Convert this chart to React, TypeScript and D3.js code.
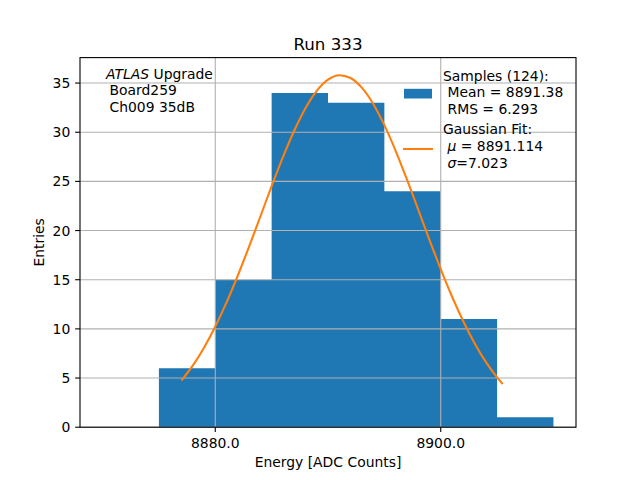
import React from 'react';
import * as d3 from 'd3';

// histogram: bin edges and counts
const binEdges = [8870, 8875, 8880, 8885, 8890, 8895, 8900, 8905, 8910];
const binCounts = [0, 6, 15, 34, 33, 24, 11, 1];

// gaussian fit curve
const fitX = [8877, 8878, 8879, 8880, 8881, 8882, 8883, 8884, 8885, 8886, 8887, 8888, 8889, 8890, 8891,
  8892, 8893, 8894, 8895, 8896, 8897, 8898, 8899, 8900, 8901, 8902, 8903, 8904, 8905, 8905.5];
const fitY = [4.75, 6.26, 8.09, 10.24, 12.69, 15.43, 18.37, 21.43, 24.51, 27.46, 30.15, 32.45, 34.21, 35.35, 35.8,
  35.52, 34.53, 32.9, 30.72, 28.11, 25.2, 22.14, 19.06, 16.08, 13.29, 10.77, 8.55, 6.65, 5.07, 4.39];

const xTicks = [8880, 8900];
const yTicks = [0, 5, 10, 15, 20, 25, 30, 35];

const W = 640;
const H = 480;
const margin = { left: 80, right: 64, top: 57.6, bottom: 52.8 };
const FONT = 'DejaVu Sans, sans-serif';
const BLUE = '#1f77b4';
const ORANGE = '#ff7f0e';
const GRID = '#b0b0b0';

const App: React.FC = () => {
  const x0 = margin.left;
  const x1 = W - margin.right;
  const y0 = H - margin.bottom;
  const y1 = margin.top;

  const x = d3.scaleLinear().domain([8868, 8912]).range([x0, x1]);
  const y = d3.scaleLinear().domain([0, 37.59]).range([y0, y1]);

  // one step-shaped area so neighbouring bars have no seams
  const steps = binEdges.map((e, i) => ({ e, c: i < binCounts.length ? binCounts[i] : 0 }));
  const histArea = d3.area<{ e: number; c: number }>()
    .x(d => x(d.e))
    .y0(y0)
    .y1(d => y(d.c))
    .curve(d3.curveStepAfter);

  const line = d3.line<number>()
    .x((_, i) => x(fitX[i]))
    .y(d => y(d))
    .curve(d3.curveMonotoneX);

  const tick = 4.86;

  return (
    <svg width={W} height={H} style={{ position: 'fixed', left: 0, top: 0, background: 'white' }}
      fontFamily={FONT}>
      <rect x={0} y={0} width={W} height={H} fill="white" />

      {/* bars */}
      <path d={histArea(steps) || ''} fill={BLUE} />

      {/* grid on top */}
      {xTicks.map(t => (
        <line key={'gx' + t} x1={x(t)} x2={x(t)} y1={y1} y2={y0} stroke={GRID} strokeWidth={1.1} />
      ))}
      {yTicks.map(t => (
        <line key={'gy' + t} x1={x0} x2={x1} y1={y(t)} y2={y(t)} stroke={GRID} strokeWidth={1.1} />
      ))}

      {/* fit curve */}
      <path d={line(fitY) || ''} fill="none" stroke={ORANGE} strokeWidth={2.08} />

      {/* spines */}
      <rect x={x0} y={y1} width={x1 - x0} height={y0 - y1} fill="none" stroke="black" strokeWidth={1.1} />

      {/* x ticks */}
      {xTicks.map(t => (
        <g key={'xt' + t}>
          <line x1={x(t)} x2={x(t)} y1={y0} y2={y0 + tick} stroke="black" strokeWidth={1.1} />
          <text x={x(t)} y={y0 + 21} textAnchor="middle" fontSize={13.9}>{t.toFixed(1)}</text>
        </g>
      ))}
      {/* y ticks */}
      {yTicks.map(t => (
        <g key={'yt' + t}>
          <line x1={x0 - tick} x2={x0} y1={y(t)} y2={y(t)} stroke="black" strokeWidth={1.1} />
          <text x={x0 - 9.7} y={y(t) + 5} textAnchor="end" fontSize={13.9}>{t}</text>
        </g>
      ))}

      {/* labels */}
      <text x={(x0 + x1) / 2} y={49.5} textAnchor="middle" fontSize={16.7}>Run 333</text>
      <text x={(x0 + x1) / 2} y={466.5} textAnchor="middle" fontSize={13.9}>Energy [ADC Counts]</text>
      <text transform={`translate(44,${(y0 + y1) / 2}) rotate(-90)`} textAnchor="middle" fontSize={13.9}>Entries</text>

      {/* annotation */}
      <text x={106} y={78.5} fontSize={13.9}>
        <tspan fontStyle="italic">ATLAS</tspan> Upgrade
      </text>
      <text x={109.5} y={95.2} fontSize={13.9}>Board259</text>
      <text x={109.5} y={111.9} fontSize={13.9}>Ch009 35dB</text>

      {/* legend */}
      <rect x={404} y={88.8} width={28} height={9.7} fill={BLUE} />
      <text x={443} y={80.5} fontSize={13.9}>Samples (124):</text>
      <text x={447.5} y={97.2} fontSize={13.9}>Mean = 8891.38</text>
      <text x={447.5} y={113.9} fontSize={13.9}>RMS = 6.293</text>

      <line x1={403} x2={433} y1={149} y2={149} stroke={ORANGE} strokeWidth={2.08} />
      <text x={443} y={134.3} fontSize={13.9}>Gaussian Fit:</text>
      <text x={447.5} y={151} fontSize={13.9}>
        <tspan fontStyle="italic">μ</tspan> = 8891.114
      </text>
      <text x={447.5} y={167.7} fontSize={13.9}>
        <tspan fontStyle="italic">σ</tspan>=7.023
      </text>
    </svg>
  );
};

export default App;
